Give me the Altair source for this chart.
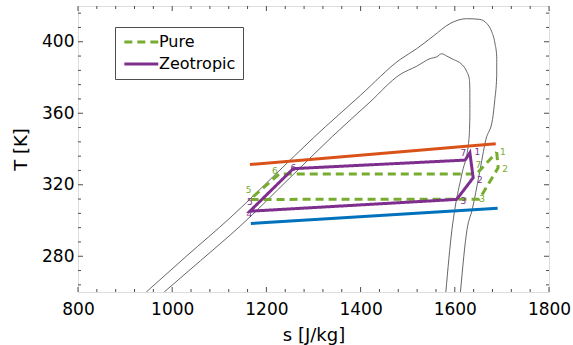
import altair as alt
import pandas as pd

# ---------------- data ----------------
outer_s = [945, 1030, 1123, 1220, 1300, 1400, 1484, 1519, 1554, 1590, 1607, 1625, 1653, 1668, 1678,
           1685, 1689, 1689, 1685, 1680, 1666, 1652, 1637, 1626, 1612]
outer_T = [260, 280, 301.5, 326, 346.3, 370.1, 390.1, 396.1, 403.1, 410.2, 412.1, 412.9, 412.5, 410.2, 405.9,
           399.4, 391.9, 380.8, 367.7, 356.5, 345.3, 326, 306.2, 295, 260]

inner_s = [983, 1060, 1144, 1250, 1340, 1420, 1484, 1519, 1547, 1562, 1572, 1583, 1597, 1615, 1625,
           1631, 1632, 1632, 1630, 1615, 1600, 1594, 1581]
inner_T = [260, 277.5, 296.8, 323.9, 347, 366.3, 381.7, 386.3, 390.5, 391.6, 393.3, 392.0, 390.1, 387.3, 383.5,
           378.9, 371.5, 358.4, 345.3, 326, 306.2, 295, 260]

hot_s = [1165, 1687]
hot_T = [331.3, 342.9]
cold_s = [1167, 1691]
cold_T = [298.3, 306.9]

# cycles (closed paths)
pure_labels = ["1", "2", "3", "5", "6", "7", "1"]
pure_s = [1689, 1692, 1652, 1165, 1227, 1646, 1689]
pure_T = [338.2, 329.5, 311.9, 311.8, 326.0, 326.0, 338.2]

zeo_labels = ["7", "1", "2", "3", "4", "5", "6", "7"]
zeo_s = [1622, 1632, 1639, 1604, 1165, 1175, 1257, 1622]
zeo_T = [333.8, 337.9, 323.9, 311.8, 305.2, 307.8, 329.0, 333.8]

# state point label positions
pure_num = ["1", "2", "3", "5", "6", "7"]
pure_num_s = [1702, 1707, 1658, 1162, 1218, 1650]
pure_num_T = [338.5, 329.0, 312.0, 317.0, 327.6, 331.3]

zeo_num = ["1", "2", "3", "4", "5", "6", "7"]
zeo_num_s = [1648, 1653, 1618, 1164, 1165, 1257, 1618]
zeo_num_T = [338.5, 322.6, 310.8, 303.6, 310.2, 329.5, 337.5]

x_major = [800, 1000, 1200, 1400, 1600, 1800]
x_minor = [v for v in range(840, 1800, 40) if v not in x_major]
y_major = [280, 320, 360, 400]
y_minor = [v for v in range(264, 420, 8) if v not in y_major]

# ---------------- styling ----------------
W, H = 471, 286
FONT = "DejaVu Sans"
FRAME = "#4d4d4d"
GREEN = "#77AC30"
PURPLE = "#7E2F8E"
ORANGE = "#D95319"
BLUE = "#0072BD"

xscale = alt.Scale(domain=[800, 1800], nice=False, zero=False)
yscale = alt.Scale(domain=[260, 420], nice=False, zero=False)
xaxis = alt.Axis(values=x_major, title="s [J/kg]", grid=False, ticks=False, domain=False,
                 labelFont=FONT, labelFontSize=17, labelColor="black", labelPadding=9,
                 labelFlush=False, titleFont=FONT, titleFontSize=18, titleFontWeight="normal",
                 titleColor="black", titlePadding=9, format="d")
yaxis = alt.Axis(values=y_major, title="T [K]", grid=False, ticks=False, domain=False,
                 labelFont=FONT, labelFontSize=17, labelColor="black", labelPadding=4,
                 labelFlush=False, titleFont=FONT, titleFontSize=18, titleFontWeight="normal",
                 titleColor="black", titlePadding=11, format="d")
X = alt.X("s:Q", scale=xscale, axis=xaxis)
Y = alt.Y("T:Q", scale=yscale, axis=yaxis)

# dome curves
dome = pd.concat([
    pd.DataFrame({"s": outer_s, "T": outer_T, "curve": "outer", "i": range(len(outer_s))}),
    pd.DataFrame({"s": inner_s, "T": inner_T, "curve": "inner", "i": range(len(inner_s))}),
])
dome_layer = alt.Chart(dome).mark_line(strokeWidth=0.9, interpolate="monotone", clip=True).encode(
    x=X, y=Y, detail="curve:N", order="i:Q", color=alt.value("#555555"))

hot = alt.Chart(pd.DataFrame({"s": hot_s, "T": hot_T})).mark_line(strokeWidth=3).encode(
    x=X, y=Y, color=alt.value(ORANGE))
cold = alt.Chart(pd.DataFrame({"s": cold_s, "T": cold_T})).mark_line(strokeWidth=3).encode(
    x=X, y=Y, color=alt.value(BLUE))

cyc = pd.concat([
    pd.DataFrame({"s": pure_s, "T": pure_T, "cycle": "Pure", "i": range(len(pure_s))}),
    pd.DataFrame({"s": zeo_s, "T": zeo_T, "cycle": "Zeotropic", "i": range(len(zeo_s))}),
])
# custom line symbol: 6 units long, starting at the symbol's left edge
leg = alt.Legend(orient="none", legendX=37, legendY=21, title=None, symbolType="M-1,0H5",
                 symbolSize=128, symbolStrokeWidth=3, labelFont=FONT, labelFontSize=16,
                 labelColor="black", labelOffset=21, padding=7, rowPadding=6,
                 fillColor="white", strokeColor=FRAME)
cycle_layer = alt.Chart(cyc).mark_line(strokeWidth=3).encode(
    x=X, y=Y, order="i:Q",
    color=alt.Color("cycle:N", scale=alt.Scale(domain=["Pure", "Zeotropic"], range=[GREEN, PURPLE]), legend=leg),
    strokeDash=alt.StrokeDash("cycle:N", scale=alt.Scale(domain=["Pure", "Zeotropic"], range=[[8, 5], [1, 0]]), legend=leg),
)

pure_txt = alt.Chart(pd.DataFrame({"s": pure_num_s, "T": pure_num_T, "n": pure_num})).mark_text(
    font=FONT, fontSize=9, align="center", baseline="middle").encode(x=X, y=Y, text="n:N", color=alt.value(GREEN))
zeo_txt = alt.Chart(pd.DataFrame({"s": zeo_num_s, "T": zeo_num_T, "n": zeo_num})).mark_text(
    font=FONT, fontSize=9, align="center", baseline="middle").encode(x=X, y=Y, text="n:N", color=alt.value(PURPLE))

# inside ticks on all four sides
def xticks(vals, ln):
    d = pd.DataFrame({"s": vals})
    b = alt.Chart(d).mark_rule(color=FRAME, strokeWidth=1).encode(x=X, y=alt.value(H), y2=alt.value(H - ln))
    t = alt.Chart(d).mark_rule(color=FRAME, strokeWidth=1).encode(x=X, y=alt.value(0), y2=alt.value(ln))
    return [b, t]

def yticks(vals, ln):
    d = pd.DataFrame({"T": vals})
    l = alt.Chart(d).mark_rule(color=FRAME, strokeWidth=1).encode(y=Y, x=alt.value(0), x2=alt.value(ln))
    r = alt.Chart(d).mark_rule(color=FRAME, strokeWidth=1).encode(y=Y, x=alt.value(W), x2=alt.value(W - ln))
    return [l, r]

tick_layers = xticks(x_major, 5) + xticks(x_minor, 3) + yticks(y_major, 5) + yticks(y_minor, 3)

chart = alt.layer(
    dome_layer, hot, cold, cycle_layer, pure_txt, zeo_txt, *tick_layers
).properties(
    width=W, height=H,
    autosize=alt.AutoSizeParams(type="none"),
    padding={"left": 78, "top": 6, "right": 24, "bottom": 53},
).configure_view(stroke=FRAME, strokeWidth=1).configure(background="white")

chart.save("out.html", embed_options={"renderer": "svg", "actions": False})
